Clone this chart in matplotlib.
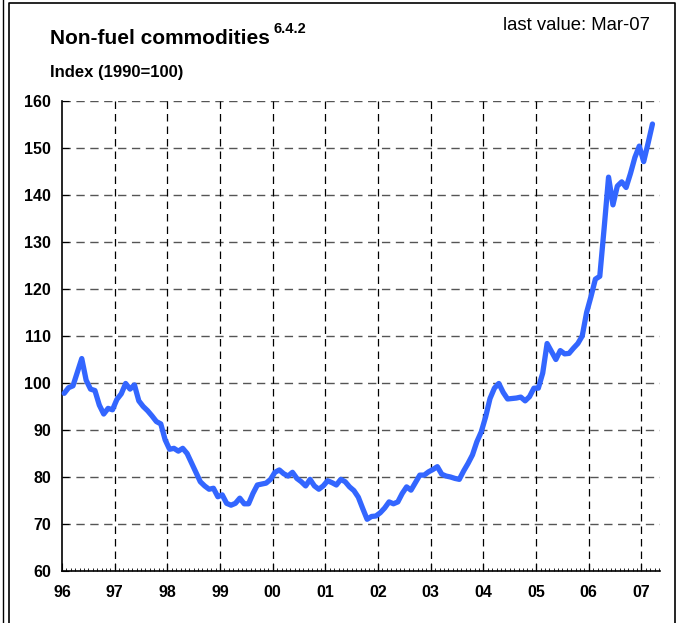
import numpy as np
import matplotlib.pyplot as plt
from matplotlib.lines import Line2D

plt.rcParams['font.family'] = ['Liberation Sans', 'DejaVu Sans']

# monthly index values, Jan-96 .. Mar-07
values = [
    97.8, 99.0, 99.4, 102.3, 105.2, 100.6, 98.7, 98.4, 95.3, 93.4, 94.6, 94.3,   # 96
    96.5, 97.7, 99.9, 98.7, 99.6, 96.2, 95.0, 94.1, 93.0, 91.8, 91.3, 87.9,      # 97
    85.9, 86.1, 85.5, 86.1, 85.0, 83.0, 81.0, 79.0, 78.1, 77.4, 77.6, 75.8,      # 98
    76.2, 74.4, 74.0, 74.4, 75.5, 74.3, 74.3, 76.5, 78.3, 78.5, 78.7, 79.5,      # 99
    81.0, 81.5, 80.7, 80.2, 81.0, 79.7, 79.0, 78.1, 79.5, 78.1, 77.4, 78.1,      # 00
    79.2, 78.8, 78.3, 79.5, 79.0, 77.9, 77.1, 75.7, 73.3, 71.0, 71.6, 71.7,      # 01
    72.4, 73.4, 74.7, 74.3, 74.7, 76.5, 77.9, 77.2, 78.8, 80.4, 80.4, 81.1,      # 02
    81.6, 82.2, 80.6, 80.2, 80.0, 79.7, 79.5, 81.3, 82.9, 84.7, 87.5, 89.6,      # 03
    92.8, 96.7, 98.9, 99.9, 98.0, 96.6, 96.7, 96.8, 97.0, 96.2, 97.1, 98.9,      # 04
    98.9, 102.1, 108.4, 106.7, 105.0, 106.9, 106.2, 106.3, 107.4, 108.4, 110.0, 115.0,  # 05
    118.4, 122.1, 122.7, 133.0, 143.8, 137.9, 141.9, 142.8, 141.6, 144.6, 148.0, 150.4,  # 06
    147.1, 151.0, 155.1,                                                          # 07
]
year_labels = ['96', '97', '98', '99', '00', '01', '02', '03', '04', '05', '06', '07']
y_ticks = [60, 70, 80, 90, 100, 110, 120, 130, 140, 150, 160]

W, H = 682, 623
fig = plt.figure(figsize=(W / 100, H / 100), dpi=100)
ax = fig.add_axes([62 / W, (H - 571) / H, (660 - 62) / W, (571 - 101) / H])

months = np.arange(len(values)) + 0.5
ax.plot(months, values, color='#3366ff', lw=3.8, solid_joinstyle='round',
        solid_capstyle='round', zorder=3, clip_on=False)

ax.set_xlim(0, (660 - 62) / 4.39)
ax.set_ylim(60, 160)

ax.set_xticks(np.arange(len(year_labels)) * 12)
ax.set_xticklabels(year_labels, fontweight='bold', fontsize=11.5)
ax.set_xticks(np.arange(0, 137), minor=True)
ax.set_yticks(y_ticks)
ax.set_yticklabels([str(v) for v in y_ticks], fontweight='bold', fontsize=11.5)

ax.tick_params(axis='x', which='major', direction='in', length=6, width=0.8, pad=10)
ax.tick_params(axis='x', which='minor', direction='in', length=2.5, width=0.6)
ax.tick_params(axis='y', which='major', direction='in', length=5, width=0.8, pad=8)
ax.tick_params(axis='y', which='minor', left=False)

for side in ['top', 'right']:
    ax.spines[side].set_visible(False)
ax.spines['left'].set_linewidth(1.2)
ax.spines['bottom'].set_linewidth(1.2)

for y in y_ticks[1:]:
    ax.axhline(y, color='#555555', lw=1.0, ls=(0, (6, 4)), zorder=1)
for x in np.arange(1, len(year_labels)) * 12:
    ax.axvline(x, color='black', lw=0.9, ls=(0, (6, 4)), zorder=1)

fig.text(50 / W, 1 - 38 / H, 'Non-fuel commodities', fontsize=15, fontweight='bold',
         va='center', ha='left')
fig.text(274 / W, 1 - 29 / H, '6.4.2', fontsize=10.5, fontweight='bold',
         va='center', ha='left')
fig.text(650 / W, 1 - 25 / H, 'last value: Mar-07', fontsize=13.3,
         va='center', ha='right')
fig.text(50 / W, 1 - 72 / H, 'Index (1990=100)', fontsize=12, fontweight='bold',
         va='center', ha='left')

# outer frame
fig.add_artist(Line2D([3 / W, 3 / W], [0, 1], color='black', lw=1.0))
fig.add_artist(Line2D([9 / W, 9 / W, 675 / W, 675 / W], [0, 1 - 3 / H, 1 - 3 / H, 0],
                      color='black', lw=1.2))

fig.savefig('out.png', dpi=100)
